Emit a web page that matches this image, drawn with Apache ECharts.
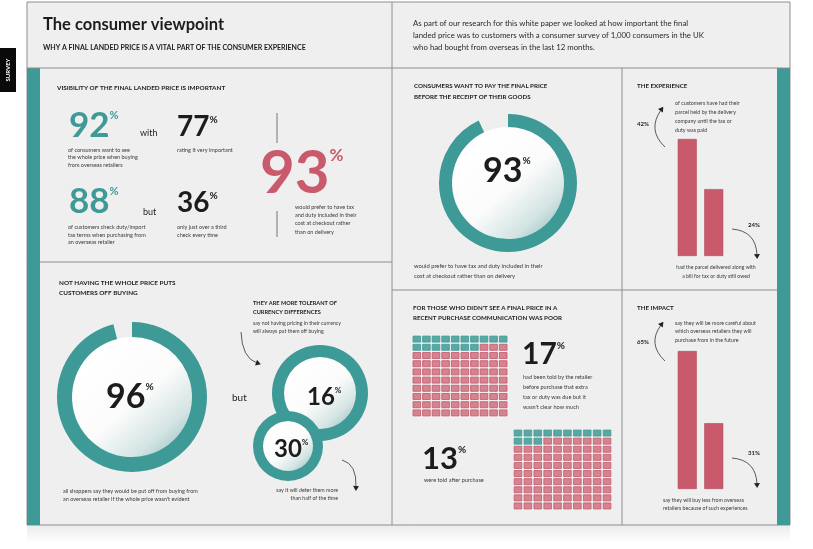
<!DOCTYPE html>
<html>
<head>
<meta charset="utf-8">
<script src="https://cdn.jsdelivr.net/npm/echarts@6/dist/echarts.min.js"></script>
<style>
  html, body { margin: 0; padding: 0; background: #fff; }
  #chart { width: 813px; height: 549px; }
</style>
</head>
<body>
<div id="chart"></div>
<script>
var headlineStats = [92, 77, 88, 36];
var preferTaxIncluded = 93;
var offBuyingDonut = 96;
var payBeforeDonut = 93;
var currencyRings = [16, 30];
var waffleValues = [17, 13];
var experienceLabels = ['held until paid', 'bill still owed'];
var experienceValues = [42, 24];
var impactLabels = ['more careful', 'buy less'];
var impactValues = [65, 31];
var waffleCols = ['0', '1', '2', '3', '4', '5', '6', '7', '8', '9'];

var TEAL = '#3e9a97';
var RED = '#c95a6c';
var INK = '#1c1c1c';
var CAP = '#3a3a3a';
var FONT = 'Lato';

var chart = echarts.init(document.getElementById('chart'));

function txt(str, x, y, size, o) {
  o = o || {};
  var lh = o.lh || size * 1.35;
  return {
    type: 'text', x: x, y: y - lh / 2, z: 100, silent: true,
    style: {
      text: str, fontSize: size, fontFamily: FONT, fontWeight: o.weight || 'normal',
      fill: o.color || CAP, align: o.align || 'left', verticalAlign: 'top', lineHeight: lh
    }
  };
}

function stat(num, x, y, size, pct, color, weight) {
  return {
    type: 'text', x: x, y: y, z: 100, silent: true,
    style: {
      text: '{n|' + num + '}{p|%}', align: 'left', verticalAlign: 'middle',
      rich: {
        n: { fontSize: size, fontFamily: FONT, fontWeight: weight || 'bold', fill: color, lineHeight: size * 0.9 },
        p: { fontSize: pct, fontFamily: FONT, fontWeight: 'bold', fill: color, verticalAlign: 'top' }
      }
    }
  };
}

function line(x1, y1, x2, y2, color) {
  return { type: 'line', z: 5, silent: true, shape: { x1: x1, y1: y1, x2: x2, y2: y2 },
    style: { stroke: color || '#8e8e8e', lineWidth: 1 } };
}

function arrow(p0, c, p1) {
  var dx = p1[0] - c[0], dy = p1[1] - c[1];
  var len = Math.sqrt(dx * dx + dy * dy);
  dx /= len; dy /= len;
  var px = -dy, py = dx;
  return [
    { type: 'bezierCurve', z: 50, silent: true,
      shape: { x1: p0[0], y1: p0[1], cpx1: c[0], cpy1: c[1], x2: p1[0], y2: p1[1] },
      style: { stroke: '#333', lineWidth: 0.8, fill: null } },
    { type: 'polygon', z: 50, silent: true,
      shape: { points: [[p1[0] + dx * 4, p1[1] + dy * 4], [p1[0] - dx * 1 + px * 3, p1[1] - dy * 1 + py * 3], [p1[0] - dx * 1 - px * 3, p1[1] - dy * 1 - py * 3]] },
      style: { fill: '#222' } }
  ];
}

// soft stand-in for the halftone shading inside each ring
function halftone(cx, cy, r, z) {
  return { type: 'circle', z: z, silent: true, shape: { cx: cx, cy: cy, r: r },
    style: { fill: { type: 'linear', x: 0.2, y: 0.15, x2: 0.95, y2: 1,
      colorStops: [{ offset: 0, color: '#ffffff' }, { offset: 0.45, color: '#fbfbfb' }, { offset: 0.75, color: '#d3e4e3' }, { offset: 1, color: '#8cbcba' }] } } };
}

function donut(value, center, radius, z) {
  return {
    type: 'pie', center: center, radius: radius, startAngle: 90, clockwise: true,
    silent: true, z: z, label: { show: false }, labelLine: { show: false }, animation: false,
    itemStyle: { borderWidth: 0 },
    data: [{ value: value, itemStyle: { color: TEAL } }, { value: 100 - value, itemStyle: { color: 'transparent' } }]
  };
}

function ring(value, center, radius, z) {
  return {
    type: 'pie', center: center, radius: radius, silent: true, z: z, animation: false,
    label: { show: false }, labelLine: { show: false }, itemStyle: { borderWidth: 0, color: TEAL },
    data: [{ value: value }]
  };
}

function waffleData(value, teal) {
  var out = [];
  for (var i = 0; i < 100; i++) {
    if ((i < value) === teal) out.push([waffleCols[i % 10], waffleCols[Math.floor(i / 10)]]);
  }
  return out;
}

var graphics = [
  { type: 'rect', z: 0, silent: true, shape: { x: 27, y: 525, width: 763, height: 18 },
    style: { fill: { type: 'linear', x: 0, y: 0, x2: 0, y2: 1, colorStops: [{ offset: 0, color: 'rgba(0,0,0,0.08)' }, { offset: 1, color: 'rgba(0,0,0,0)' }] } } },
  { type: 'rect', z: 0, silent: true, shape: { x: 27, y: 2, width: 763, height: 523 }, style: { fill: '#efefef', stroke: '#8e8e8e', lineWidth: 1 } },
  { type: 'rect', z: 1, silent: true, shape: { x: 27, y: 68, width: 13, height: 457 }, style: { fill: TEAL } },
  { type: 'rect', z: 1, silent: true, shape: { x: 777, y: 68, width: 13, height: 457 }, style: { fill: TEAL } },
  { type: 'rect', z: 1, silent: true, shape: { x: 0, y: 48, width: 16, height: 44 }, style: { fill: '#0a0a0a' } },
  { type: 'text', z: 100, silent: true, x: 8, y: 70, rotation: Math.PI / 2,
    style: { text: 'SURVEY', fontSize: 6, fontWeight: 'bold', fontFamily: FONT, fill: '#fff', align: 'center', verticalAlign: 'middle' } },
  line(27, 68, 790, 68), line(392, 2, 392, 525), line(40, 262, 392, 262),
  line(392, 290, 777, 290), line(622, 68, 622, 525),
  line(277, 113, 277, 143, '#777'), line(277, 211, 277, 237, '#777'),

  txt('The consumer viewpoint', 43, 25, 16.5, { weight: 'bold', color: INK }),
  txt('WHY A FINAL LANDED PRICE IS A VITAL PART OF THE CONSUMER EXPERIENCE', 43, 48, 7, { weight: 'bold', color: INK }),
  txt('As part of our research for this white paper we looked at how important the final\nlanded price was to customers with a consumer survey of 1,000 consumers in the UK\nwho had bought from overseas in the last 12 months.', 413, 23, 7.8, { lh: 12, color: '#2a2a2a' }),

  // visibility panel
  txt('VISIBILITY OF THE FINAL LANDED PRICE IS IMPORTANT', 57, 88, 6.4, { weight: 'bold', color: INK }),
  stat(headlineStats[0], 69, 126, 35, 11, TEAL),
  txt('with', 140, 133, 9, { color: INK }),
  stat(headlineStats[1], 177, 127, 28, 10, INK),
  txt('of consumers want to see\nthe whole price when buying\nfrom overseas retailers', 68, 150, 5.5, { lh: 7.6 }),
  txt('rating it very important', 177, 150, 5.5),
  stat(headlineStats[2], 69, 202, 35, 11, TEAL),
  txt('but', 143, 212, 9, { color: INK }),
  stat(headlineStats[3], 177, 203, 28, 10, INK),
  txt('of customers check duty/import\ntax terms when purchasing from\nan overseas retailer', 68, 227, 5.5, { lh: 7.8 }),
  txt('only just over a third\ncheck every time', 177, 227, 5.5, { lh: 7.8 }),
  stat(preferTaxIncluded, 260, 174, 60, 17, RED),
  txt('would prefer to have tax\nand duty included in their\ncost at checkout rather\nthan on delivery', 295, 207, 5.5, { lh: 8.3 }),

  // off buying panel
  txt('NOT HAVING THE WHOLE PRICE PUTS\nCUSTOMERS OFF BUYING', 59, 283, 6.4, { weight: 'bold', color: INK, lh: 10 }),
  halftone(132, 397, 60, 1),
  stat(offBuyingDonut, 106, 397, 34, 10, INK),
  txt('but', 232, 398, 10, { color: INK }),
  txt('all shoppers say they would be put off from buying from\nan overseas retailer if the whole price wasn\'t evident', 63, 491, 5.5, { lh: 8 }),
  txt('THEY ARE MORE TOLERANT OF\nCURRENCY DIFFERENCES', 253, 303, 5.6, { weight: 'bold', color: INK, lh: 9 }),
  txt('say not having pricing in their currency\nwill always put them off buying', 253, 323, 5.2, { lh: 8 }),
  halftone(320, 393, 36, 1),
  halftone(288, 446, 25, 3),
  stat(currencyRings[0], 307, 397, 24, 8, INK),
  stat(currencyRings[1], 274, 449, 24, 8, INK),
  txt('say it will deter them more\nthan half of the time', 338, 490, 5.3, { lh: 8.5, align: 'right' }),

  // pay before panel
  txt('CONSUMERS WANT TO PAY THE FINAL PRICE\nBEFORE THE RECEIPT OF THEIR GOODS', 414, 86, 6.2, { weight: 'bold', color: INK, lh: 11 }),
  halftone(508, 183, 56, 1),
  stat(payBeforeDonut, 483, 171, 34, 10, INK),
  txt('would prefer to have tax and duty included in their\ncost at checkout rather than on delivery', 414, 266, 5.8, { lh: 10 }),

  // experience panel
  txt('THE EXPERIENCE', 637, 86, 6.2, { weight: 'bold', color: INK }),
  txt(experienceValues[0] + '%', 637, 124, 6, { weight: 'bold', color: INK }),
  txt('of customers have had their\nparcel held by the delivery\ncompany until the tax or\nduty was paid', 675, 103, 5.3, { lh: 9 }),
  txt(experienceValues[1] + '%', 748, 225, 6, { weight: 'bold', color: INK }),
  txt('had the parcel delivered along with\na bill for tax or duty still owed', 716, 267, 5.2, { lh: 9, align: 'center' }),

  // waffle panel
  txt('FOR THOSE WHO DIDN\'T SEE A FINAL PRICE IN A\nRECENT PURCHASE COMMUNICATION WAS POOR', 413, 308, 6.2, { weight: 'bold', color: INK, lh: 10.5 }),
  stat(waffleValues[0], 522, 354, 30, 10, INK),
  txt('had been told by the retailer\nbefore purchase that extra\ntax or duty was due but it\nwasn\'t clear how much', 523, 377, 5.6, { lh: 10 }),
  stat(waffleValues[1], 422, 459, 31, 10, INK),
  txt('were told after purchase', 424, 480, 5.6),

  // impact panel
  txt('THE IMPACT', 637, 308, 6.2, { weight: 'bold', color: INK }),
  txt(impactValues[0] + '%', 637, 342, 6, { weight: 'bold', color: INK }),
  txt('say they will be more careful about\nwhich overseas retailers they will\npurchase from in the future', 675, 323, 5.3, { lh: 8.7 }),
  txt(impactValues[1] + '%', 748, 453, 6, { weight: 'bold', color: INK }),
  txt('say they will buy less from overseas\nretailers because of such experiences', 663, 500, 5.2, { lh: 8.5 })
];

graphics = graphics
  .concat(arrow([665, 147], [647, 130], [661, 110]))
  .concat(arrow([732, 229], [756, 231], [757, 255]))
  .concat(arrow([665, 361], [647, 344], [661, 325]))
  .concat(arrow([732, 458], [756, 460], [757, 484]))
  .concat(arrow([241, 332], [242, 358], [257, 363]))
  .concat(arrow([342, 460], [357, 464], [356, 487]));

var option = {
  backgroundColor: '#ffffff',
  animation: false,
  graphic: { elements: graphics },
  grid: [
    { left: 674, top: 116.7, width: 53, height: 139.3 },
    { left: 674, top: 340.4, width: 53, height: 148.6 },
    { left: 412, top: 335, width: 96, height: 82 },
    { left: 513, top: 429, width: 99, height: 81 }
  ],
  xAxis: [
    { gridIndex: 0, type: 'category', data: experienceLabels, show: false },
    { gridIndex: 1, type: 'category', data: impactLabels, show: false },
    { gridIndex: 2, type: 'category', data: waffleCols, show: false },
    { gridIndex: 3, type: 'category', data: waffleCols, show: false }
  ],
  yAxis: [
    { gridIndex: 0, type: 'value', min: 0, max: 50, show: false },
    { gridIndex: 1, type: 'value', min: 0, max: 70, show: false },
    { gridIndex: 2, type: 'category', data: waffleCols, inverse: true, show: false },
    { gridIndex: 3, type: 'category', data: waffleCols, inverse: true, show: false }
  ],
  series: [
    { type: 'bar', xAxisIndex: 0, yAxisIndex: 0, barWidth: 19, silent: true, data: experienceValues,
      itemStyle: { color: RED, borderColor: '#b04a5c', borderWidth: 0.6 } },
    { type: 'bar', xAxisIndex: 1, yAxisIndex: 1, barWidth: 19, silent: true, data: impactValues,
      itemStyle: { color: RED, borderColor: '#b04a5c', borderWidth: 0.6 } },
    { type: 'scatter', xAxisIndex: 2, yAxisIndex: 2, symbol: 'rect', symbolSize: [7.6, 6], silent: true,
      data: waffleData(waffleValues[0], true), itemStyle: { color: '#5aa8a4', borderColor: TEAL, borderWidth: 0.8, opacity: 1 } },
    { type: 'scatter', xAxisIndex: 2, yAxisIndex: 2, symbol: 'rect', symbolSize: [7.6, 6], silent: true,
      data: waffleData(waffleValues[0], false), itemStyle: { color: '#d6838f', borderColor: '#c25a6c', borderWidth: 0.8, opacity: 1 } },
    { type: 'scatter', xAxisIndex: 3, yAxisIndex: 3, symbol: 'rect', symbolSize: [7.6, 6], silent: true,
      data: waffleData(waffleValues[1], true), itemStyle: { color: '#5aa8a4', borderColor: TEAL, borderWidth: 0.8, opacity: 1 } },
    { type: 'scatter', xAxisIndex: 3, yAxisIndex: 3, symbol: 'rect', symbolSize: [7.6, 6], silent: true,
      data: waffleData(waffleValues[1], false), itemStyle: { color: '#d6838f', borderColor: '#c25a6c', borderWidth: 0.8, opacity: 1 } },
    donut(offBuyingDonut, [132, 397], [60, 75], 2),
    donut(payBeforeDonut, [508, 183], [56, 69], 2),
    ring(currencyRings[0], [320, 393], [36, 48], 2),
    ring(currencyRings[1], [288, 446], [25, 35], 4)
  ]
};

chart.setOption(option);
</script>
</body>
</html>
